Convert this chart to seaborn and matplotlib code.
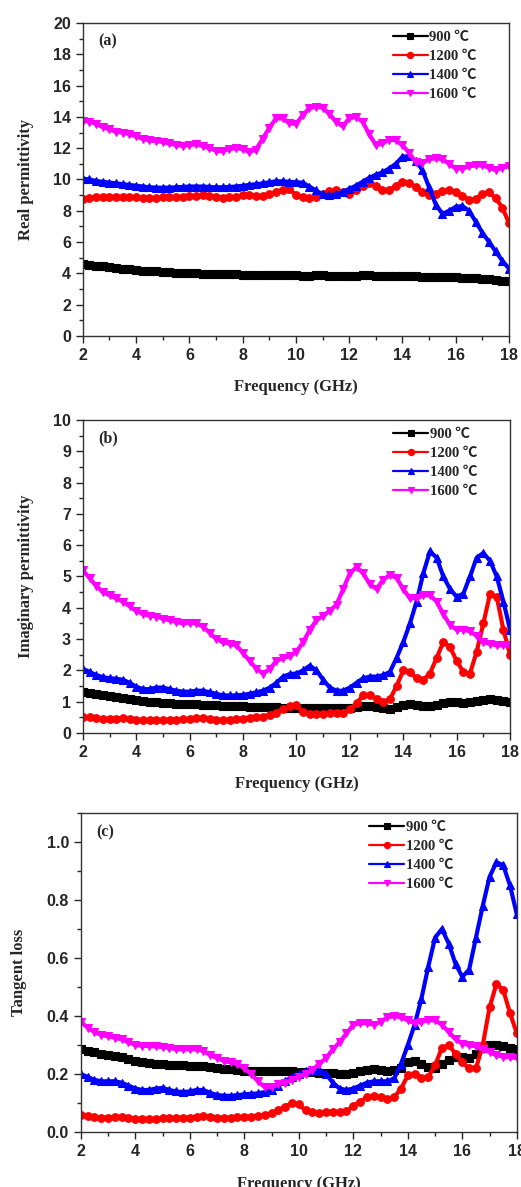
import numpy as np
import pandas as pd
import matplotlib
matplotlib.use("Agg")
import matplotlib.pyplot as plt
from matplotlib.ticker import MultipleLocator
import seaborn as sns

# ---------------- data (0.25 GHz steps) ----------------
freq = [2.0 + 0.25 * i for i in range(65)]
temps = ["900 \u2103", "1200 \u2103", "1400 \u2103", "1600 \u2103"]

real_900 = [4.6, 4.55, 4.5, 4.45, 4.4, 4.32, 4.28, 4.25,
            4.22, 4.18, 4.15, 4.12, 4.1, 4.08, 4.05, 4.03,
            4.02, 4.0, 3.98, 3.97, 3.96, 3.95, 3.94, 3.93,
            3.92, 3.92, 3.91, 3.9, 3.9, 3.89, 3.9, 3.9,
            3.88, 3.86, 3.86, 3.87, 3.88, 3.86, 3.85, 3.85,
            3.84, 3.86, 3.9, 3.92, 3.86, 3.8, 3.8, 3.83,
            3.85, 3.85, 3.8, 3.78, 3.78, 3.77, 3.77, 3.76,
            3.74, 3.72, 3.7, 3.68, 3.65, 3.62, 3.58, 3.54,
            3.5]
real_1200 = [8.75, 8.8, 8.85, 8.9, 8.9, 8.9, 8.88, 8.87,
             8.85, 8.82, 8.8, 8.82, 8.85, 8.85, 8.88, 8.9,
             8.92, 8.95, 9.0, 8.95, 8.88, 8.82, 8.85, 8.9,
             8.98, 8.98, 8.95, 8.95, 9.05, 9.2, 9.35, 9.4,
             9.0, 8.85, 8.8, 8.9, 9.05, 9.25, 9.3, 9.2,
             9.1, 9.3, 9.6, 9.8, 9.6, 9.3, 9.3, 9.6,
             9.85, 9.8, 9.5, 9.2, 9.0, 9.1, 9.25, 9.3,
             9.2, 8.95, 8.7, 8.75, 9.1, 9.2, 8.8, 8.2,
             7.2]
real_1400 = [10.05, 10.0, 9.9, 9.85, 9.8, 9.75, 9.7, 9.65,
             9.6, 9.55, 9.5, 9.48, 9.47, 9.48, 9.5, 9.52,
             9.55, 9.55, 9.55, 9.52, 9.5, 9.5, 9.52, 9.55,
             9.6, 9.65, 9.7, 9.75, 9.82, 9.88, 9.88, 9.85,
             9.82, 9.8, 9.55, 9.3, 9.05, 8.98, 9.05, 9.2,
             9.4, 9.6, 9.85, 10.1, 10.3, 10.45, 10.7, 11.0,
             11.45, 11.5, 11.2, 10.6, 9.5, 8.4, 7.8, 8.0,
             8.25, 8.3, 8.0, 7.3, 6.6, 6.0, 5.4, 4.8,
             4.3]
real_1600 = [13.75, 13.7, 13.55, 13.35, 13.2, 13.05, 13.0, 12.9,
             12.75, 12.6, 12.5, 12.45, 12.4, 12.3, 12.2, 12.15,
             12.2, 12.25, 12.15, 12.0, 11.85, 11.8, 11.95, 12.0,
             11.95, 11.75, 11.9, 12.6, 13.3, 13.9, 13.9, 13.6,
             13.55, 14.1, 14.55, 14.65, 14.6, 14.2, 13.7, 13.4,
             13.9, 14.0, 13.7, 12.9, 12.2, 12.3, 12.55, 12.5,
             12.2, 11.7, 11.1, 11.05, 11.3, 11.35, 11.3, 11.0,
             10.7, 10.7, 10.85, 10.9, 10.9, 10.75, 10.6, 10.75,
             10.85]

imag_900 = [1.3, 1.27, 1.23, 1.2, 1.17, 1.14, 1.12, 1.1,
            1.05, 1.02, 1.0, 0.98, 0.96, 0.95, 0.94, 0.93,
            0.92, 0.91, 0.9, 0.89, 0.88, 0.87, 0.86, 0.85,
            0.85, 0.84, 0.83, 0.83, 0.82, 0.82, 0.81, 0.81,
            0.8, 0.8, 0.8, 0.8, 0.81, 0.8, 0.8, 0.8,
            0.8, 0.82, 0.85, 0.85, 0.83, 0.8, 0.78, 0.82,
            0.88, 0.92, 0.9, 0.86, 0.85, 0.9, 0.95, 0.98,
            1.0, 0.97, 0.98, 1.02, 1.06, 1.07, 1.05, 1.02,
            1.0]
imag_1200 = [0.52, 0.5, 0.47, 0.45, 0.45, 0.46, 0.47, 0.45,
             0.42, 0.4, 0.4, 0.41, 0.42, 0.42, 0.43, 0.44,
             0.45, 0.47, 0.48, 0.46, 0.43, 0.42, 0.43, 0.45,
             0.46, 0.48, 0.5, 0.52, 0.58, 0.65, 0.75, 0.85,
             0.88, 0.66, 0.6, 0.6, 0.62, 0.63, 0.65, 0.65,
             0.75, 0.95, 1.2, 1.2, 1.1, 1.0, 1.08, 1.5,
             2.0, 1.95, 1.75, 1.7, 1.9, 2.4, 2.9, 2.75,
             2.3, 1.95, 1.9, 2.6, 3.5, 4.45, 4.35, 3.3,
             2.5]
imag_1400 = [2.05, 1.95, 1.85, 1.78, 1.75, 1.73, 1.7, 1.6,
             1.48, 1.4, 1.4, 1.45, 1.45, 1.4, 1.35, 1.32,
             1.32, 1.35, 1.35, 1.3, 1.25, 1.2, 1.2, 1.2,
             1.22, 1.25, 1.3, 1.35, 1.45, 1.6, 1.8, 1.88,
             1.9, 2.0, 2.15, 2.0, 1.7, 1.45, 1.35, 1.35,
             1.45, 1.6, 1.75, 1.8, 1.8, 1.85, 1.95, 2.4,
             2.9, 3.5, 4.2, 5.1, 5.8, 5.6, 5.0, 4.6,
             4.35, 4.45, 5.0, 5.6, 5.75, 5.5, 5.0, 4.2,
             3.3]
imag_1600 = [5.2, 4.95, 4.7, 4.5, 4.4, 4.3, 4.2, 4.05,
             3.9, 3.8, 3.75, 3.72, 3.65, 3.6, 3.55, 3.5,
             3.52, 3.5, 3.4, 3.2, 3.0, 2.9, 2.85, 2.8,
             2.55, 2.3, 2.05, 1.9, 2.05, 2.3, 2.4, 2.45,
             2.6, 2.9, 3.3, 3.6, 3.75, 3.9, 4.1, 4.6,
             5.1, 5.3, 5.1, 4.75, 4.6, 4.9, 5.05, 4.95,
             4.6, 4.3, 4.3, 4.4, 4.4, 4.2, 3.8, 3.45,
             3.3, 3.3, 3.25, 3.1, 2.9, 2.85, 2.8, 2.8,
             2.8]

tan_900 = [0.285, 0.28, 0.275, 0.27, 0.265, 0.262, 0.258, 0.252,
           0.245, 0.24, 0.238, 0.236, 0.234, 0.232, 0.23, 0.23,
           0.228, 0.227, 0.226, 0.223, 0.22, 0.218, 0.216, 0.214,
           0.212, 0.211, 0.21, 0.21, 0.21, 0.21, 0.21, 0.21,
           0.208, 0.207, 0.206, 0.205, 0.204, 0.203, 0.2, 0.2,
           0.205, 0.21, 0.215, 0.218, 0.215, 0.212, 0.213, 0.22,
           0.24, 0.245, 0.235, 0.225, 0.22, 0.235, 0.25, 0.26,
           0.26, 0.255, 0.27, 0.29, 0.3, 0.3, 0.295, 0.29,
           0.285]
tan_1200 = [0.06, 0.055, 0.052, 0.05, 0.05, 0.052, 0.053, 0.05,
            0.046, 0.045, 0.045, 0.046, 0.047, 0.048, 0.049, 0.05,
            0.05, 0.053, 0.055, 0.053, 0.05, 0.049, 0.05, 0.051,
            0.052, 0.053, 0.055, 0.058, 0.065, 0.075, 0.088, 0.1,
            0.095, 0.075, 0.068, 0.066, 0.068, 0.07, 0.07, 0.072,
            0.09, 0.105, 0.12, 0.125, 0.12, 0.115, 0.12, 0.15,
            0.195, 0.2, 0.185, 0.19, 0.23, 0.29, 0.3, 0.27,
            0.24, 0.22, 0.22, 0.3, 0.43, 0.51, 0.49, 0.41,
            0.34]
tan_1400 = [0.2, 0.19, 0.18, 0.175, 0.175, 0.175, 0.17, 0.16,
            0.15, 0.145, 0.145, 0.15, 0.152, 0.145, 0.14, 0.138,
            0.14, 0.145, 0.145, 0.135, 0.128, 0.125, 0.125, 0.127,
            0.13, 0.132, 0.133, 0.138, 0.145, 0.16, 0.175, 0.19,
            0.2, 0.21, 0.215, 0.215, 0.2, 0.17, 0.15, 0.145,
            0.15, 0.16, 0.17, 0.175, 0.175, 0.175, 0.185, 0.235,
            0.3, 0.37, 0.46, 0.57, 0.67, 0.7, 0.65, 0.58,
            0.535, 0.56, 0.67, 0.78, 0.88, 0.93, 0.92, 0.85,
            0.75]
tan_1600 = [0.38, 0.36, 0.345, 0.335, 0.33, 0.325, 0.32, 0.31,
            0.3, 0.298, 0.296, 0.295, 0.293, 0.29, 0.286, 0.285,
            0.285, 0.285, 0.28, 0.265, 0.255, 0.245, 0.24, 0.235,
            0.22, 0.2, 0.175, 0.155, 0.155, 0.165, 0.17, 0.18,
            0.19, 0.2, 0.215, 0.235, 0.255, 0.285, 0.31, 0.34,
            0.37, 0.375, 0.375, 0.37, 0.38, 0.395, 0.4, 0.395,
            0.385, 0.375, 0.38, 0.385, 0.385, 0.37, 0.345, 0.32,
            0.305, 0.3, 0.295, 0.285, 0.275, 0.265, 0.26, 0.258,
            0.255]

panels = [
    ("(a)", "Real permittivity", [real_900, real_1200, real_1400, real_1600], (0, 20), 2, 1),
    ("(b)", "Imaginary permittivity", [imag_900, imag_1200, imag_1400, imag_1600], (0, 10), 1, 0.5),
    ("(c)", "Tangent loss", [tan_900, tan_1200, tan_1400, tan_1600], (0, 1.1), 0.2, 0.1),
]

# ---------------- style ----------------
sns.set_style("ticks")
plt.rcParams["font.family"] = ["Liberation Serif", "Noto Sans CJK SC", "DejaVu Sans"]
plt.rcParams["axes.linewidth"] = 1.0

colors = ["#000000", "#FF0000", "#0000FF", "#FF00FF"]
markers = ["s", "o", "^", "v"]

fig = plt.figure(figsize=(5.21, 11.87), dpi=100)
positions = [
    [0.159, 0.717, 0.818, 0.2636],
    [0.159, 0.3825, 0.820, 0.2637],
    [0.155, 0.0463, 0.837, 0.2688],
]
legend_x = [0.72, 0.72, 0.655]

for (tag, ylab, series, ylim, maj, mnr), pos, lx in zip(panels, positions, legend_x):
    ax = fig.add_axes(pos)
    for vals, t, c, m in zip(series, temps, colors, markers):
        df = pd.DataFrame({"Frequency": freq, "value": vals})
        sns.lineplot(data=df, x="Frequency", y="value", ax=ax, color=c, marker=m,
                     markersize=5.5, markeredgewidth=0.8, markeredgecolor=c,
                     linewidth=3.0, label=t)
    ax.set_xlim(2, 18)
    ax.set_ylim(*ylim)
    ax.xaxis.set_major_locator(MultipleLocator(2))
    ax.xaxis.set_minor_locator(MultipleLocator(1))
    ax.yaxis.set_major_locator(MultipleLocator(maj))
    ax.yaxis.set_minor_locator(MultipleLocator(mnr))
    if tag == "(c)":
        ax.yaxis.set_major_formatter(matplotlib.ticker.FormatStrFormatter("%.1f"))
    ax.tick_params(which="both", direction="out", top=False, right=False)
    ax.tick_params(which="major", length=5, width=1)
    ax.tick_params(which="minor", length=3, width=1)
    for lbl in ax.get_xticklabels() + ax.get_yticklabels():
        lbl.set_fontfamily("Liberation Sans")
        lbl.set_fontweight("bold")
        lbl.set_fontsize(11.5)
    ax.set_xlabel("Frequency (GHz)", fontsize=12, fontweight="bold", labelpad=12)
    ax.set_ylabel(ylab, fontsize=12, fontweight="bold", labelpad=14)
    ax.text(0.035, 0.94, tag, transform=ax.transAxes, fontsize=11.5, fontweight="bold",
            ha="left", va="center")
    leg = ax.legend(loc="upper left", bbox_to_anchor=(lx, 0.985), frameon=False,
                    prop={"family": ["Liberation Serif", "Noto Sans CJK SC", "DejaVu Sans"],
                          "weight": "bold", "size": 10.5},
                    handlelength=2.4, handletextpad=0.1, labelspacing=0.4,
                    borderpad=0.2, borderaxespad=0.0)
    for h in leg.get_lines():
        h.set_linewidth(1.6)
        h.set_markersize(4.5)
    for s in ax.spines.values():
        s.set_linewidth(1.0)
        s.set_color("#333333")

fig.savefig("out.png", dpi=100)
